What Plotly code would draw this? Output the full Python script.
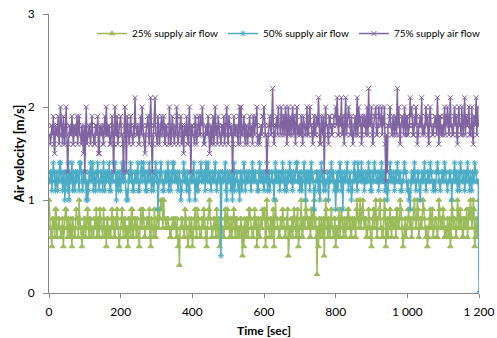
import plotly.graph_objects as go

# time in seconds (one sample every 2 s)
time_sec = list(range(0, 1201, 2))

# samples at t = 0, 4, 8, ... 1200
flow_25_a = [
    1.0,0.7,0.5,0.8,0.6,0.9,0.7,0.8,0.6,0.7,0.5,0.8,0.9,0.6,0.7,0.8,0.5,0.7,0.6,0.9,
    0.8,1.0,0.7,0.5,0.6,0.8,0.7,0.9,0.6,0.8,0.7,0.6,0.8,0.9,0.7,0.6,0.8,0.7,0.9,0.6,
    0.5,0.8,0.7,0.6,0.9,0.8,0.6,0.7,0.8,0.5,0.7,0.9,0.6,0.8,0.7,0.5,0.8,0.6,0.9,0.7,
    0.8,0.6,0.7,0.5,0.9,0.7,0.8,0.6,0.7,0.8,0.9,0.5,0.7,0.6,0.8,0.7,0.9,0.8,1.0,1.0,
    1.0,0.8,0.7,0.8,0.7,0.6,0.8,0.7,0.8,0.6,0.5,0.3,0.7,0.8,0.6,0.9,0.7,0.5,0.8,0.6,
    0.5,0.7,0.9,0.6,0.8,0.7,0.6,0.8,0.9,0.7,0.5,0.8,1.0,0.7,0.6,0.8,0.7,0.9,0.6,0.5,
    0.8,0.7,0.6,0.9,0.8,0.7,0.6,0.8,0.7,0.9,0.6,0.8,0.7,0.6,0.8,0.4,0.5,0.7,0.8,0.6,
    0.9,0.7,0.6,0.8,0.7,0.5,0.8,0.6,0.7,0.9,0.8,0.5,1.0,0.7,0.6,0.8,0.7,0.5,1.0,0.8,
    0.7,0.6,0.8,0.9,0.7,0.6,0.8,0.4,0.7,0.8,0.6,0.9,0.7,0.8,0.5,0.7,1.0,0.6,0.8,1.0,
    0.8,0.7,0.6,0.9,0.7,1.0,0.8,0.2,0.5,0.7,0.8,0.6,0.4,1.0,0.7,0.8,0.6,0.9,0.7,0.8,
    0.5,0.7,0.8,0.6,0.9,0.7,0.8,0.6,0.7,0.9,0.8,0.6,0.7,0.8,0.6,1.0,0.7,1.0,0.8,1.0,
    0.7,0.8,0.6,0.9,0.7,0.5,0.8,0.7,1.0,0.6,0.8,1.0,0.7,0.6,1.0,0.5,0.8,0.7,0.9,0.6,
    0.8,0.7,0.6,0.9,0.7,1.0,0.8,0.5,0.7,0.6,0.8,0.9,0.7,0.6,0.8,1.0,0.7,1.0,0.6,0.8,
    0.7,1.0,0.8,0.6,0.5,0.7,0.9,0.8,0.6,0.7,0.8,0.6,1.0,0.7,0.8,0.9,0.6,0.7,0.8,0.6,
    0.5,1.0,0.7,0.8,0.6,1.0,0.7,0.9,0.8,0.6,0.7,0.8,0.6,0.9,1.0,0.7,1.0,0.5,0.8,0.6,
    1.0,
]
# samples at t = 2, 6, 10, ... 1198
flow_25_b = [
    0.7,0.6,0.8,0.7,0.9,0.6,0.8,0.7,0.6,0.8,0.7,0.9,0.7,0.8,0.6,0.7,0.8,0.6,0.7,0.8,
    0.6,0.8,0.7,0.7,0.8,0.6,0.9,0.7,0.8,0.6,0.7,0.8,0.7,0.6,0.8,0.9,0.7,0.6,0.8,0.7,
    0.8,0.6,0.7,0.8,0.7,0.6,0.8,0.9,0.7,0.6,0.8,0.7,0.8,0.6,0.7,0.8,0.7,0.9,0.6,0.8,
    0.7,0.8,0.6,0.7,0.8,0.9,0.6,0.7,0.8,0.7,0.6,0.8,0.7,0.9,0.6,0.8,0.7,0.8,0.9,0.7,
    0.8,0.7,0.8,0.7,0.6,0.7,0.8,0.7,0.7,0.8,0.6,0.7,0.8,0.7,0.6,0.8,0.7,0.6,0.7,0.8,
    0.6,0.8,0.7,0.9,0.7,0.6,0.8,0.7,0.8,0.6,0.7,0.9,0.8,0.6,0.7,0.8,0.6,0.7,0.8,0.7,
    0.7,0.6,0.8,0.7,0.9,0.8,0.7,0.6,0.8,0.7,0.8,0.6,0.7,0.8,0.6,0.7,0.8,0.6,0.7,0.9,
    0.8,0.7,0.6,0.9,0.8,0.7,0.6,0.8,0.7,0.8,0.9,0.6,0.8,0.7,0.8,0.6,0.9,0.7,0.8,0.7,
    0.6,0.8,0.7,0.8,0.6,0.7,0.9,0.7,0.6,0.8,0.7,0.8,0.6,0.9,0.7,0.8,0.6,0.8,0.7,0.9,
    0.7,0.8,0.6,0.8,0.9,0.7,0.6,0.7,0.8,0.6,0.7,0.8,0.7,0.9,0.6,0.7,0.8,0.7,0.6,0.8,
    0.7,0.6,0.9,0.7,0.8,0.6,0.7,0.8,0.9,0.7,0.6,0.8,0.7,0.6,0.9,0.8,0.8,0.7,0.9,0.8,
    0.8,0.6,0.7,0.8,0.6,0.7,0.9,0.8,0.7,0.8,0.9,0.7,0.6,0.8,0.9,0.7,0.6,0.8,0.7,0.8,
    0.7,0.8,0.9,0.7,0.8,0.9,0.7,0.6,0.8,0.7,0.9,0.7,0.8,0.7,0.9,0.8,0.8,0.9,0.7,0.8,
    0.8,0.9,0.7,0.7,0.6,0.8,0.7,0.9,0.7,0.8,0.6,0.7,0.9,0.8,0.7,0.8,0.7,0.6,0.7,0.8,
    0.6,0.9,0.8,0.7,0.7,0.9,0.8,0.7,0.6,0.8,0.7,0.9,0.7,0.8,0.9,0.8,0.9,0.6,0.7,0.8,
]

flow_50_a = [
    1.2,1.3,1.1,1.4,1.2,1.3,1.1,1.2,1.4,1.3,1.2,1.0,1.3,1.1,1.0,1.2,1.4,1.3,1.1,1.2,
    1.3,1.1,1.4,1.2,1.3,1.2,1.0,1.0,1.3,1.4,1.2,1.1,1.3,1.2,1.4,1.1,1.3,1.2,1.4,1.1,
    1.2,1.3,1.4,1.1,1.2,1.3,1.4,1.0,1.2,1.3,1.1,1.4,1.2,1.3,1.0,1.0,1.2,1.4,1.3,1.1,
    1.3,1.2,1.4,1.1,1.3,1.2,1.4,1.3,1.1,1.2,1.4,1.3,1.2,1.1,1.3,1.2,0.9,1.3,1.4,1.2,
    1.1,1.3,1.2,1.4,1.3,1.1,1.2,1.4,1.3,1.2,1.1,1.3,1.0,1.2,1.4,1.3,1.1,1.2,1.0,1.3,
    1.2,1.4,1.0,1.3,1.1,1.2,1.4,1.3,1.2,1.1,1.3,1.4,1.2,1.1,1.3,1.2,1.4,1.1,1.3,1.2,
    0.4,1.3,1.2,1.4,1.0,1.2,1.3,1.1,1.0,1.4,1.2,1.3,1.1,1.0,1.3,1.2,1.4,1.1,1.3,1.2,
    1.3,1.1,1.4,1.2,1.3,1.2,1.1,1.4,1.3,1.2,1.1,1.3,1.4,1.2,1.1,1.3,1.2,1.0,1.4,1.3,
    1.2,1.1,1.3,1.4,1.2,1.3,1.1,1.2,1.4,1.3,1.1,1.2,1.3,1.4,1.2,1.1,1.3,1.2,1.4,1.0,
    1.3,1.2,1.1,1.4,1.3,0.9,1.2,1.3,1.1,1.0,1.4,1.2,1.3,1.1,1.2,1.0,1.3,1.4,1.2,1.1,
    0.9,1.3,1.2,1.4,1.1,0.9,1.3,1.2,1.4,1.1,1.3,1.0,1.2,1.4,1.3,1.1,1.2,1.3,1.4,1.2,
    1.1,1.3,1.2,1.4,1.3,1.1,1.2,1.4,1.3,1.2,1.1,1.3,1.4,1.2,1.3,1.1,1.0,1.2,1.4,1.3,
    1.2,1.1,1.3,1.4,1.2,1.3,1.1,1.2,1.4,1.3,1.1,1.0,0.9,1.3,1.2,1.4,1.1,1.3,1.2,1.0,
    1.3,1.2,1.4,1.1,1.3,1.2,1.4,1.3,1.1,1.2,1.3,1.4,1.2,1.1,1.3,1.2,1.4,1.3,1.1,1.2,
    1.3,1.0,1.2,1.4,1.3,1.1,1.2,1.4,1.3,1.2,1.1,1.3,1.4,1.2,1.3,1.1,1.2,1.4,1.3,1.2,
    0.0,
]
flow_50_b = [
    1.2,1.3,1.2,1.3,1.1,1.2,1.3,1.4,1.2,1.1,1.3,1.2,1.2,1.4,1.3,1.2,1.1,1.2,1.3,1.3,
    1.2,1.4,1.3,1.1,1.2,1.3,1.2,1.1,1.2,1.3,1.4,1.2,1.1,1.3,1.2,1.2,1.3,1.1,1.2,1.3,
    1.3,1.2,1.1,1.3,1.2,1.4,1.2,1.3,1.1,1.2,1.3,1.2,1.4,1.2,1.1,1.3,1.3,1.2,1.1,1.2,
    1.2,1.3,1.1,1.2,1.4,1.3,1.2,1.1,1.3,1.3,1.2,1.1,1.3,1.2,1.4,1.3,1.2,1.2,1.3,1.1,
    1.2,1.2,1.3,1.1,1.2,1.3,1.4,1.2,1.2,1.3,1.2,1.2,1.1,1.3,1.2,1.2,1.3,1.1,1.3,1.2,
    1.3,1.2,1.2,1.1,1.3,1.3,1.2,1.2,1.3,1.4,1.2,1.2,1.3,1.2,1.2,1.3,1.2,1.2,1.2,1.3,
    1.2,1.2,1.3,1.1,1.3,1.2,1.2,1.3,1.2,1.1,1.3,1.2,1.2,1.3,1.1,1.2,1.3,1.2,1.2,1.3,
    1.2,1.3,1.2,1.3,1.2,1.1,1.3,1.2,1.2,1.3,1.2,1.2,1.1,1.3,1.2,1.3,1.2,1.3,1.2,1.2,
    1.3,1.2,1.2,1.3,1.1,1.2,1.3,1.3,1.2,1.2,1.3,1.2,1.4,1.2,1.3,1.2,1.1,1.3,1.2,1.3,
    1.2,1.3,1.3,1.2,1.2,1.1,1.3,1.2,1.3,1.2,1.3,1.1,1.2,1.2,1.3,1.2,1.2,1.3,1.3,1.2,
    1.2,1.1,1.3,1.2,1.3,1.2,1.2,1.3,1.2,1.2,1.2,1.1,1.3,1.2,1.2,1.4,1.3,1.2,1.2,1.3,
    1.2,1.2,1.3,1.2,1.1,1.3,1.2,1.3,1.2,1.3,1.2,1.2,1.2,1.3,1.1,1.2,1.1,1.3,1.2,1.2,
    1.3,1.2,1.2,1.3,1.2,1.1,1.2,1.3,1.3,1.2,1.2,1.1,1.2,1.2,1.3,1.2,1.2,1.3,1.1,1.2,
    1.2,1.3,1.2,1.2,1.3,1.2,1.3,1.2,1.2,1.1,1.3,1.3,1.2,1.2,1.3,1.2,1.3,1.2,1.2,1.3,
    1.2,1.2,1.3,1.2,1.2,1.3,1.1,1.3,1.2,1.3,1.2,1.2,1.3,1.1,1.2,1.3,1.2,1.3,1.2,1.2,
]

flow_75_a = [
    1.7,1.6,1.8,1.9,1.5,1.7,1.8,1.6,2.0,1.7,1.9,1.6,2.0,1.3,1.8,1.7,1.9,1.6,1.8,1.7,
    1.6,1.9,1.7,1.8,1.5,1.3,2.0,1.7,1.8,1.6,1.9,1.7,1.6,1.8,1.9,1.5,1.7,1.8,1.6,1.9,
    2.0,1.7,1.8,1.6,1.9,1.3,2.0,1.7,1.6,1.8,1.9,1.7,1.3,2.0,1.3,1.8,1.6,1.9,1.7,1.8,
    2.1,1.7,1.8,1.6,1.9,2.0,1.7,1.5,1.8,1.9,1.6,2.1,1.3,1.8,2.1,1.7,1.9,1.6,1.8,1.7,
    1.9,1.6,1.8,1.7,2.0,1.6,1.9,1.7,1.8,2.0,1.6,1.7,1.9,1.8,1.5,1.7,1.9,1.6,2.0,1.3,
    1.8,1.7,1.9,1.6,1.8,1.7,1.9,2.0,1.6,1.8,1.7,1.9,1.5,1.8,1.7,1.6,2.0,1.8,1.9,1.7,
    1.6,1.8,1.9,1.7,2.0,1.6,1.8,1.7,1.3,1.9,1.7,1.8,1.6,2.0,2.0,1.7,1.9,1.6,1.8,1.7,
    1.9,1.7,1.6,1.8,1.9,2.0,1.7,1.6,1.8,1.9,2.0,1.7,1.3,1.8,1.9,1.7,2.2,1.6,1.8,1.9,
    2.0,1.8,2.0,1.7,1.9,2.0,1.6,2.0,1.8,1.7,2.0,1.9,1.6,2.0,1.8,1.7,1.9,1.6,1.8,1.7,
    2.0,1.7,2.0,1.8,1.6,1.9,1.7,1.8,2.1,1.6,1.9,1.7,1.3,2.0,1.8,1.6,1.9,1.7,1.8,1.9,
    2.0,2.1,1.7,1.8,2.1,1.9,1.6,2.1,1.8,2.0,1.7,1.9,1.6,1.8,1.7,2.1,2.0,1.8,1.6,1.9,
    1.8,1.7,2.0,2.2,1.8,2.0,1.6,1.9,2.0,1.7,2.0,1.8,2.0,1.9,2.0,1.2,1.3,1.8,2.0,1.7,
    1.9,1.7,1.8,2.2,2.0,1.6,1.9,1.8,2.0,1.7,1.9,1.8,2.1,2.0,1.7,1.9,2.0,1.6,1.8,1.9,
    2.1,1.8,1.7,2.0,1.9,1.6,2.0,1.8,1.7,1.9,1.8,2.1,1.6,1.9,1.8,1.7,2.0,1.9,2.0,1.7,
    2.1,1.8,1.7,2.0,1.9,1.6,2.0,1.8,2.0,1.7,2.1,1.9,1.8,2.0,1.7,2.0,1.6,1.9,2.1,2.0,
    1.8,
]
flow_75_b = [
    1.7,1.8,1.7,1.6,1.8,1.7,1.9,1.7,1.8,1.6,1.7,1.8,1.7,1.6,1.8,1.7,1.6,1.8,1.7,1.9,
    1.8,1.7,1.6,1.7,1.8,1.7,1.6,1.8,1.7,1.8,1.7,1.6,1.8,1.7,1.5,1.8,1.7,1.6,1.8,1.7,
    1.7,1.8,1.6,1.7,1.8,1.6,1.7,1.9,1.7,1.8,1.7,1.6,1.8,1.7,1.9,1.7,1.8,1.7,1.6,1.7,
    1.8,1.7,1.6,1.8,1.7,1.8,1.6,1.7,1.8,1.7,1.9,1.7,1.6,1.8,1.7,1.6,1.8,1.7,1.9,1.8,
    1.7,1.8,1.7,1.6,1.8,1.7,1.8,1.6,1.7,1.9,1.7,1.8,1.6,1.7,1.8,1.7,1.6,1.8,1.7,1.8,
    1.7,1.6,1.8,1.7,1.9,1.7,1.8,1.7,1.6,1.8,1.7,1.8,1.7,1.6,1.9,1.8,1.7,1.6,1.8,1.7,
    1.8,1.7,1.6,1.8,1.7,1.9,1.7,1.8,1.6,1.7,1.8,1.7,1.9,1.6,1.7,1.8,1.7,1.8,1.6,1.7,
    1.7,1.8,1.9,1.7,1.8,1.6,1.7,1.8,1.7,1.9,1.8,1.7,1.6,1.8,1.7,1.9,1.8,1.7,1.8,1.7,
    1.8,1.7,1.9,1.8,1.7,1.9,1.8,1.7,1.9,1.8,1.7,1.8,1.9,1.7,1.8,1.7,1.8,1.9,1.7,1.8,
    1.7,1.9,1.8,1.7,1.8,1.7,1.9,1.8,1.7,1.6,1.8,1.9,1.7,1.8,1.7,1.9,1.8,1.7,1.8,1.9,
    1.8,1.7,1.9,1.8,1.7,1.8,1.9,1.7,1.8,1.9,1.7,1.8,1.7,1.9,1.8,1.7,1.8,1.9,1.7,1.8,
    1.9,1.8,1.7,1.8,1.9,1.7,1.8,1.9,1.7,1.8,1.9,1.8,1.7,1.8,1.6,1.7,1.8,1.9,1.8,1.7,
    1.8,1.9,1.7,1.8,1.7,1.8,1.9,1.7,1.8,1.9,1.7,1.8,1.9,1.8,1.7,1.8,1.9,1.7,1.8,1.8,
    1.7,1.8,1.9,1.8,1.7,1.9,1.8,1.7,1.8,1.9,1.7,1.8,1.9,1.7,1.8,1.9,1.7,1.8,1.9,1.8,
    1.8,1.7,1.9,1.8,1.7,1.9,1.8,1.7,1.8,1.9,1.7,1.8,1.9,1.7,1.8,1.7,1.9,1.8,1.7,1.8,
]


def interleave(a, b):
    out = []
    for i, v in enumerate(a):
        out.append(v)
        if i < len(b):
            out.append(b[i])
    return out


flow_25 = interleave(flow_25_a, flow_25_b)
flow_50 = interleave(flow_50_a, flow_50_b)
flow_75 = interleave(flow_75_a, flow_75_b)

series_names = ["25% supply air flow", "50% supply air flow", "75% supply air flow"]
series_colors = ["#9BBB59", "#4BACC6", "#8064A2"]
series_symbols = ["triangle-up", "asterisk-open", "x-thin-open"]

x_tick_vals = [0, 200, 400, 600, 800, 1000, 1200]
x_tick_text = ["0", "200", "400", "600", "800", "1 000", "1 200"]
y_tick_vals = [0, 1, 2, 3]

FONT = "Lato"

fig = go.Figure()
for name, ys, color, sym in zip(series_names, [flow_25, flow_50, flow_75],
                                series_colors, series_symbols):
    fig.add_trace(go.Scatter(
        x=time_sec, y=ys, name=name, mode="lines+markers",
        line=dict(color=color, width=1.5),
        marker=dict(symbol=sym, size=5, color=color,
                    line=dict(color=color, width=1)),
    ))

fig.update_layout(
    width=497, height=338,
    margin=dict(l=49, r=16, t=14, b=45),
    paper_bgcolor="white", plot_bgcolor="white",
    font=dict(family=FONT, size=12, color="#000000"),
    showlegend=True,
    legend=dict(orientation="h", x=0.1, xanchor="left", y=0.93, yanchor="middle",
                font=dict(family=FONT, size=10, color="#000000"),
                bgcolor="rgba(0,0,0,0)", itemwidth=30, tracegroupgap=0),
    xaxis=dict(range=[0, 1200], tickvals=x_tick_vals, ticktext=x_tick_text,
               showgrid=False, zeroline=False, showline=True, automargin=False,
               linecolor="#868686", linewidth=1, ticks="outside",
               tickcolor="#868686", ticklen=4, ticklabelstandoff=4,
               title=dict(text="<b>Time [sec]</b>", font=dict(size=12), standoff=18),
               tickfont=dict(size=12)),
    yaxis=dict(range=[0, 3], tickvals=y_tick_vals,
               showgrid=False, zeroline=False, showline=True, automargin=False,
               linecolor="#868686", linewidth=1, ticks="outside",
               tickcolor="#868686", ticklen=5, ticklabelstandoff=6,
               title=dict(text="<b>Air velocity [m/s]</b>", font=dict(size=13), standoff=0),
               tickfont=dict(size=12)),
)

fig.write_html(
    "out.html",
    config={"displayModeBar": False},
    post_script="document.body.style.margin='0';document.body.style.overflow='hidden';",
)
